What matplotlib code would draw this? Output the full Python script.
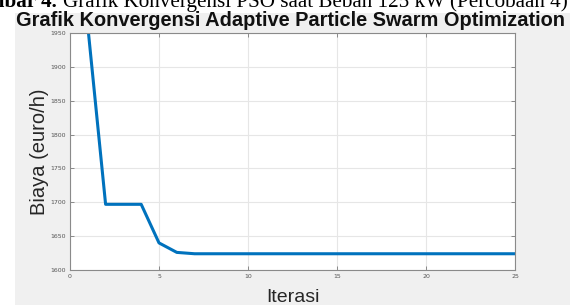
import numpy as np
import matplotlib.pyplot as plt
from matplotlib.patches import Rectangle

# data
iterasi = [1, 2, 3, 4, 5, 6, 7, 8, 9, 10, 11, 12, 13, 14, 15, 16, 17, 18, 19, 20, 21, 22, 23, 24, 25]
biaya = [1960, 1697, 1697, 1697, 1640, 1626, 1624, 1624, 1624, 1624, 1624, 1624, 1624,
         1624, 1624, 1624, 1624, 1624, 1624, 1624, 1624, 1624, 1624, 1624, 1624]
xticks = [0, 5, 10, 15, 20, 25]
yticks = [1600, 1650, 1700, 1750, 1800, 1850, 1900, 1950]

W, H = 579, 305
fig = plt.figure(figsize=(W / 100, H / 100), dpi=100)
fig.patch.set_facecolor('white')

# gray matlab figure panel
bg = Rectangle((15 / W, 0), (570 - 15) / W, (H - 13) / H, transform=fig.transFigure,
               facecolor='#f0f0f0', edgecolor='none', zorder=-5)
fig.patches.append(bg)

# caption of the document, cut at the top and left
fig.text(57 / W, 1 - 7 / H, 'Gambar 4.', fontsize=15.2, family='Liberation Serif',
         fontweight='bold', va='baseline', ha='right')
fig.text(63 / W, 1 - 7 / H, 'Grafik Konvergensi PSO saat Beban 125 kW (Percobaan 4)',
         fontsize=15.2, family='Liberation Serif', va='baseline', ha='left')

ax = fig.add_axes([70 / W, 35 / H, (515 - 70) / W, (271 - 34) / H])
ax.set_facecolor('white')
ax.plot(iterasi, biaya, color='#0072BD', lw=2.2, clip_on=True)

ax.set_xlim(0, 25)
ax.set_ylim(1600, 1950)
ax.set_xticks(xticks)
ax.set_yticks(yticks)
ax.grid(True, color='#e6e6e6', lw=0.8)
ax.set_axisbelow(True)
ax.tick_params(direction='in', length=3, width=0.6, colors='#7a7a7a', labelsize=4.5,
               top=True, right=True, labelcolor='#555555', pad=3)
for s in ax.spines.values():
    s.set_color('#8a8a8a')
    s.set_linewidth(0.8)

ax.set_xlabel('Iterasi', fontsize=14, family='Liberation Sans', color='#262626', labelpad=7)
ax.set_ylabel('Biaya (euro/h)', fontsize=14.5, family='Liberation Sans', color='#262626', labelpad=1)
fig.text(291 / W, 1 - 25.5 / H, 'Grafik Konvergensi Adaptive Particle Swarm Optimization',
         fontsize=14.4, family='Liberation Sans', fontweight='bold', ha='center',
         va='baseline', color='#111111')

fig.savefig('out.png', dpi=100, facecolor=fig.get_facecolor())
